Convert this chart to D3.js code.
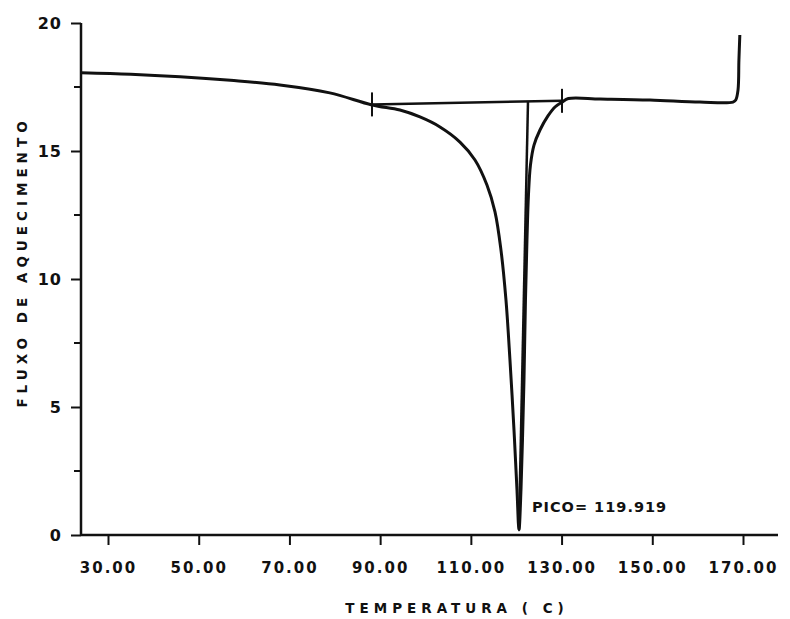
<!DOCTYPE html>
<html>
<head>
<meta charset="utf-8">
<script src="https://cdn.jsdelivr.net/npm/d3@7"></script>
<style>
  body { margin: 0; background: #fff; }
  text { font-family: "DejaVu Sans", sans-serif; font-weight: bold; fill: #111; }
</style>
</head>
<body>
<div id="chart"></div>
<script>
// DSC curve
var temps = [24.05, 35, 45.9, 57, 67.9, 78.9, 88.2, 94.37, 98.78, 103.19, 107.6, 110.91, 113.55, 115.32, 116.64, 117.74, 118.62, 119.51, 120.17, 120.61,
             121.05, 121.38, 121.71, 122.04, 122.37, 122.7, 123.14, 123.92, 125.24, 127.0, 128.55, 130.1, 131.5, 138.5, 149.5, 160.5, 167.8, 168.4, 168.9, 169.1, 169.3];
var flux  = [18.06, 18.0, 17.9, 17.76, 17.58, 17.27, 16.8, 16.6, 16.33, 15.94, 15.35, 14.65, 13.67, 12.62, 11.13, 9.18, 6.84, 4.1, 1.76, 0.2,
             1.76, 3.71, 6.05, 9.18, 11.52, 13.28, 14.45, 15.23, 15.82, 16.37, 16.72, 16.91, 17.05, 17.03, 16.99, 16.91, 16.91, 16.99, 17.38, 18.55, 19.53];

// integration baseline and peak marker
var baseTemps = [88.2, 130.1];
var baseFlux  = [16.82, 16.96];
var peakTemps = [122.6, 120.6];
var peakFlux  = [16.95, 0.2];
var peakLabel = "PICO= 119.919";

var xTicks = [30, 50, 70, 90, 110, 130, 150, 170];
var yTicks = [0, 5, 10, 15, 20];
var yMinor = [2.5, 7.5, 12.5, 17.5];

var width = 790, height = 619;
var svg = d3.select("#chart").append("svg")
    .attr("width", width)
    .attr("height", height);

var x = d3.scaleLinear().domain([30, 170]).range([108, 743]);
var y = d3.scaleLinear().domain([0, 20]).range([535, 23]);
var x0 = x.invert(81), x1 = x.invert(778);

var lineStraight = d3.line()
    .x(function(d){ return x(d[0]); })
    .y(function(d){ return y(d[1]); });

// x axis
var xAxis = d3.axisBottom(x)
    .tickValues(xTicks)
    .tickSize(10)
    .tickPadding(17)
    .tickFormat(d3.format(".2f"));
var gx = svg.append("g").attr("transform", "translate(0," + y(0) + ")").call(xAxis);
gx.select(".domain").remove();
gx.append("line").attr("x1", x(x0)).attr("x2", x(x1)).attr("y1", 0).attr("y2", 0)
    .attr("stroke", "#111").attr("stroke-width", 2.5);
gx.selectAll(".tick line").attr("stroke", "#111").attr("stroke-width", 2);
gx.selectAll(".tick text").attr("font-size", 15).attr("letter-spacing", 2).style("font-family", "DejaVu Sans").style("font-weight", "bold");

// y axis
var yAxis = d3.axisLeft(y)
    .tickValues(yTicks)
    .tickSize(10)
    .tickPadding(9)
    .tickFormat(d3.format("d"));
var gy = svg.append("g").attr("transform", "translate(" + x(x0) + ",0)").call(yAxis);
gy.select(".domain").remove();
gy.append("line").attr("x1", 0).attr("x2", 0).attr("y1", y(20)).attr("y2", y(0))
    .attr("stroke", "#111").attr("stroke-width", 2.5);
gy.selectAll(".tick line").attr("stroke", "#111").attr("stroke-width", 2);
gy.selectAll(".tick text").attr("font-size", 16).attr("letter-spacing", 1).style("font-family", "DejaVu Sans").style("font-weight", "bold");
gy.selectAll(".minor").data(yMinor).enter().append("line")
    .attr("x1", -7).attr("x2", 0)
    .attr("y1", function(d){ return y(d); }).attr("y2", function(d){ return y(d); })
    .attr("stroke", "#111").attr("stroke-width", 2);

// curve
var pts = temps.map(function(t, i){ return [t, flux[i]]; });
svg.append("path")
    .datum(pts)
    .attr("d", d3.line().x(function(d){ return x(d[0]); }).y(function(d){ return y(d[1]); }).curve(d3.curveCatmullRom.alpha(0.5)))
    .attr("fill", "none").attr("stroke", "#111").attr("stroke-width", 3).attr("stroke-linejoin", "round");

// baseline + end marks
var base = baseTemps.map(function(t, i){ return [t, baseFlux[i]]; });
svg.append("path").datum(base).attr("d", lineStraight)
    .attr("fill", "none").attr("stroke", "#111").attr("stroke-width", 2.5);
svg.selectAll(".endmark").data(base).enter().append("line")
    .attr("x1", function(d){ return x(d[0]); }).attr("x2", function(d){ return x(d[0]); })
    .attr("y1", function(d){ return y(d[1]) - 12; }).attr("y2", function(d){ return y(d[1]) + 12; })
    .attr("stroke", "#111").attr("stroke-width", 2);

// peak line
var peak = peakTemps.map(function(t, i){ return [t, peakFlux[i]]; });
svg.append("path").datum(peak).attr("d", lineStraight)
    .attr("fill", "none").attr("stroke", "#111").attr("stroke-width", 2.5);

svg.append("text")
    .attr("x", x(peakTemps[1]) + 13).attr("y", y(peakFlux[1]) - 18)
    .attr("font-size", 14.5).attr("letter-spacing", 1)
    .text(peakLabel);

// axis titles
svg.append("text")
    .attr("x", 457).attr("y", 613)
    .attr("text-anchor", "middle")
    .attr("font-size", 13.5).attr("letter-spacing", 5)
    .text("TEMPERATURA ( C)");

svg.append("text")
    .attr("transform", "translate(27,262) rotate(-90)")
    .attr("text-anchor", "middle")
    .attr("font-size", 13.5).attr("letter-spacing", 5)
    .text("FLUXO DE AQUECIMENTO");
</script>
</body>
</html>
